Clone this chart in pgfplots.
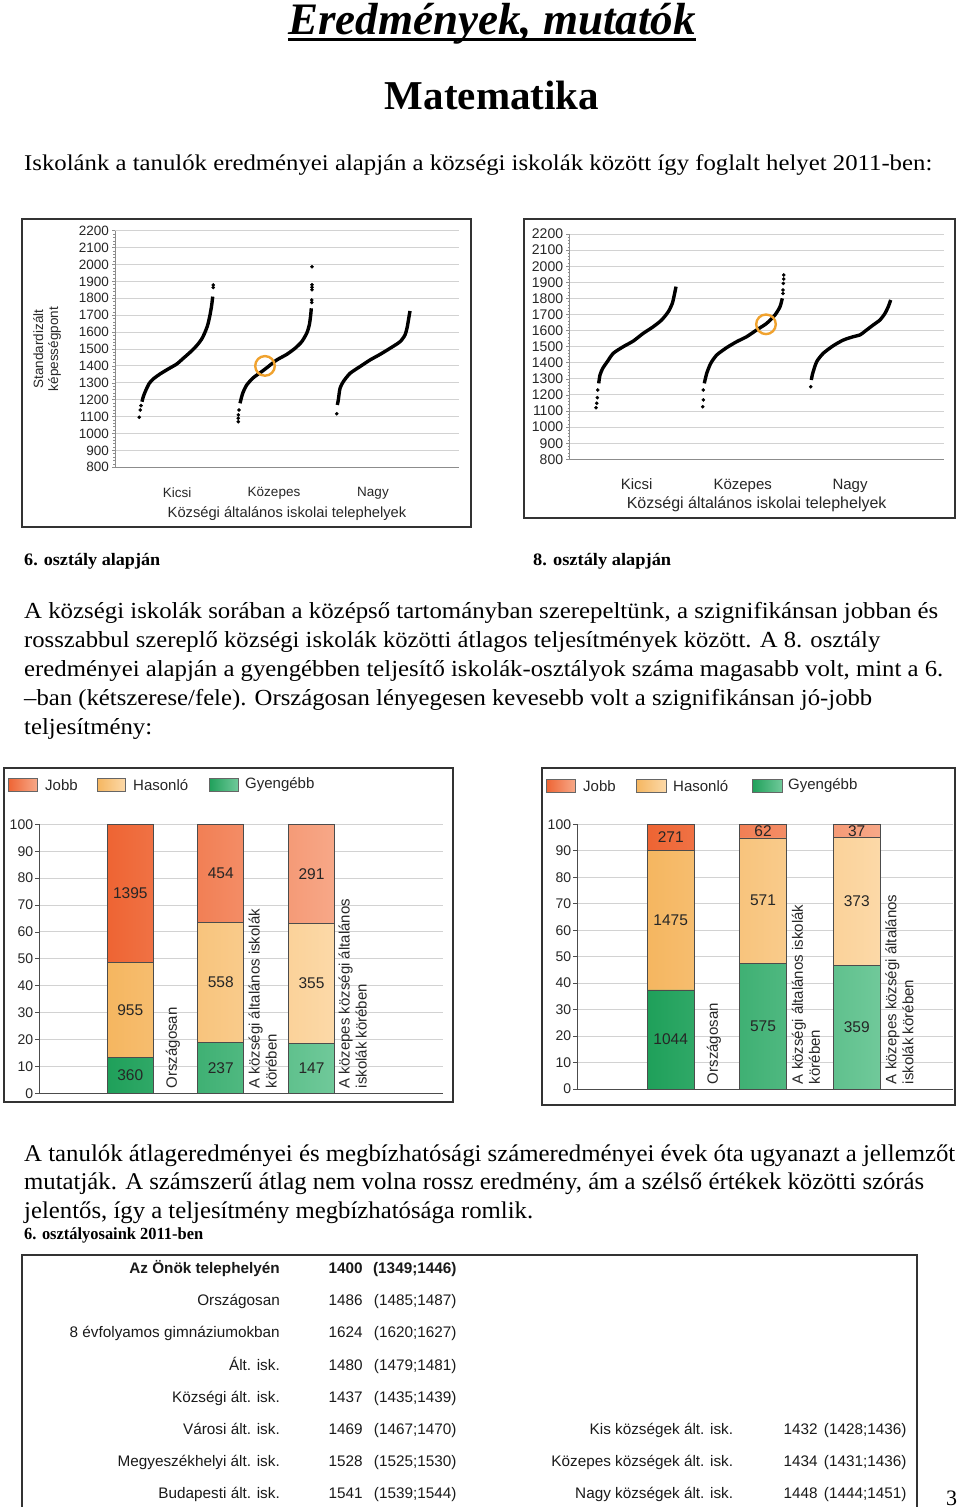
\documentclass[border=0pt]{standalone}
\usepackage{fontspec}
\setmainfont{Liberation Serif}
\newfontfamily\sans{Liberation Sans}
\newfontfamily\cserif[FakeStretch=0.88]{Liberation Serif}
\usepackage{graphicx}
\usepackage{pgfplots}
\usepackage{pgfplotstable}
\pgfplotsset{compat=1.18}

\definecolor{jobbL}{HTML}{EE6433}
\definecolor{jobbR}{HTML}{F7A888}
\definecolor{hasL}{HTML}{F5B660}
\definecolor{hasR}{HTML}{FCD9A8}
\definecolor{gyL}{HTML}{1FA05A}
\definecolor{gyR}{HTML}{70C99A}
\definecolor{ring}{HTML}{F0A22E}
\definecolor{gridc}{HTML}{D2D2D2}
\definecolor{framec}{HTML}{333333}

\newcommand{\fs}[1]{\fontsize{#1}{#1}\selectfont}

% bar chart data: x position, cumulative tops (percent), counts, label mid-heights
\pgfplotstableread{
x     gy     has    jo   cgy   cha   cjo   mgy   mha   mjo
91.0  13.28  48.52  100  360   955   1395  6.64  30.90 74.26
181.4 18.98  63.65  100  237   558   454   9.49  41.32 81.83
272.2 18.54  63.30  100  147   355   291   9.27  40.92 81.65
}\barsA
\pgfplotstableread{
x     gy     has    jo   cgy   cha   cjo   mgy   mha   mjo
93.4  37.42  90.29  100  1044  1475  271   18.71 63.85 95.14
185.7 47.60  94.87  100  575   571   62    23.80 71.23 97.43
279.4 46.68  95.19  100  359   373   37    23.34 70.94 97.59
}\barsB

\pgfplotsset{
  scurve/.style={
    scale only axis, anchor=south west,
    xmin=0, ymin=800, ymax=2200,
    axis x line*=bottom, axis y line*=left,
    axis line style={draw=black!45, line width=0.8pt},
    ytick={800,900,...,2200},
    minor y tick num=4,
    ymajorgrids, grid style={draw=gridc, line width=0.9pt},
    tick align=outside, major tick length=3pt, minor tick length=1.8pt,
    ytick style={draw=black!45, line width=0.6pt},
    xtick style={draw=none},
    /pgf/number format/assume math mode=true,
    /pgf/number format/1000 sep={},
    xticklabel style={text=black!85},
    clip=false,
  },
  barax/.style={
    scale only axis, anchor=south west,
    xmin=0, ymin=0, ymax=100,
    axis x line*=bottom, axis y line*=left,
    axis line style={draw=black!70, line width=1pt},
    ytick={0,10,...,100},
    ymajorgrids, grid style={draw=gridc, line width=0.9pt},
    xtick=\empty,
    tick align=outside, major tick length=4pt,
    ytick style={draw=black!70, line width=0.8pt},
    /pgf/number format/assume math mode=true,
    yticklabel style={font=\sans\fs{14}, inner sep=0pt, text=black!85},
    clip=false,
  },
  sbar/.style={ybar, bar width=46pt, bar shift=0pt, draw=black!70, line width=0.6pt},
  cnt/.style={only marks, mark=*, mark size=0pt, mark options={draw=none,fill=none},
    nodes near coords, point meta=explicit symbolic,
    nodes near coords style={anchor=center, font=\sans\fs{15.5}, text=black!85}},
  scl/.style={black, line width=3.4pt, line join=round, smooth, tension=0.4},
  sdot/.style={only marks, mark=*, mark size=1.6pt, black},
}

\begin{document}
\begin{tikzpicture}[x=1pt,y=1pt]
\useasboundingbox (0,0) rectangle (960,-1507);

% ---------- headings ----------
\node[anchor=base, inner sep=0] (ttl) at (492,-34) {\fs{45}\bfseries\itshape Eredmények, mutatók};
\draw[line width=3pt] ([yshift=-5pt]ttl.base west) -- ([yshift=-5pt]ttl.base east);
\node[anchor=base, inner sep=0] at (492,-109) {\fs{41}\bfseries Matematika};
\node[anchor=base west, inner sep=0] at (24,-170) {\fs{22.5}\resizebox{908pt}{\height}{Iskolánk a tanulók eredményei alapján a községi iskolák között így foglalt helyet 2011-ben:}};

% ---------- chart frames ----------
\draw[framec, line width=1.6pt] (22,-219) rectangle (471,-527);
\draw[framec, line width=1.6pt] (524,-219) rectangle (955,-518);

% ---------- S-curve chart 1 (6th grade) ----------
\begin{axis}[scurve, at={(115pt,-467.3pt)}, width=344pt, height=236.6pt, xmax=344,
  yticklabel style={font=\sans\fs{13.5}, inner sep=0pt, xshift=-3pt, text=black!85},
  xtick={62,159,258}, xticklabels={Kicsi,Közepes,Nagy},
  xticklabel style={font=\sans\fs{13.5}, yshift=-13.5pt}]
\addplot[scl] table {
x y
27 1188
28.3 1218
31 1258
34.3 1297
38.3 1323
45 1352
53.3 1382
61.7 1411
68.3 1445
75 1480
81.7 1520
86.7 1559
90 1599
92.7 1642
95 1701
96.7 1760
97.7 1810
};
\addplot[sdot] table {
x y
24.3 1096
25.3 1139
26 1165
98.3 1879
98.3 1864
};
\addplot[scl] table {
x y
125 1179
127.7 1238
131.7 1287
138.3 1330
146.7 1366
153.3 1396
161.7 1435
171.7 1468
180 1504
186.7 1543
191.7 1593
194.3 1642
195.7 1701
196.3 1741
};
\addplot[sdot] table {
x y
123.3 1070
123.3 1090
123.3 1110
124 1139
196.7 1775
196.7 1790
197 1850
197 1865
197 1880
197 1987
};
\addplot[scl] table {
x y
222.3 1169
223.3 1198
225 1267
228.3 1307
235 1356
245 1396
255 1435
265 1468
275 1504
285 1543
290 1583
292.3 1632
293.7 1681
295 1725
};
\addplot[sdot] table {
x y
221.7 1117
};
\addplot[only marks, mark=o, mark size=9.8pt, draw=ring, line width=2.4pt] coordinates {(150,1400)};
\node[rotate=90, align=center, font=\sans\fontsize{13.5}{15}\selectfont, text=black!85] at (rel axis cs:0,0.5) [yshift=68pt] {Standardizált\\képességpont};
\node[font=\sans\fs{14.7}, text=black!85] at (rel axis cs:0.5,0) [yshift=-46pt] {Községi általános iskolai telephelyek};
\end{axis}

% ---------- S-curve chart 2 (8th grade) ----------
\begin{axis}[scurve, at={(569.3pt,-459.3pt)}, width=374.7pt, height=225.3pt, xmax=374.7,
  yticklabel style={font=\sans\fs{14}, inner sep=0pt, xshift=-3pt, text=black!85},
  xtick={67.4,173.4,280.7}, xticklabels={Kicsi,Közepes,Nagy},
  xticklabel style={font=\sans\fs{15}, yshift=-13pt}]
\addplot[scl] table {
x y
29.4 1272
30.7 1324
33.4 1365
38 1407
44 1459
54 1500
64 1535
74 1583
84 1624
92.4 1666
99 1717
103 1769
105 1821
106.7 1873
};
\addplot[sdot] table {
x y
26.7 1121
27.4 1148
28 1183
28.4 1231
};
\addplot[scl] table {
x y
135 1272
137.4 1334
141.4 1396
147.4 1448
157.4 1494
167.4 1531
177.4 1562
187.4 1604
197.4 1645
205.7 1697
210.7 1748
213 1800
};
\addplot[sdot] table {
x y
133.4 1127
134 1169
134 1231
213.7 1830
213.7 1852
214 1893
214.4 1920
214.4 1945
};
\addplot[scl] table {
x y
242 1293
243.4 1334
247.4 1407
254 1459
264 1506
274 1541
284 1562
290.7 1573
297.4 1604
304 1635
310.7 1666
315.7 1707
319 1749
321.4 1790
};
\addplot[sdot] table {
x y
241.4 1251
};
\addplot[only marks, mark=o, mark size=9.8pt, draw=ring, line width=2.4pt] coordinates {(196.7,1639)};
\node[font=\sans\fs{16}, text=black!85] at (rel axis cs:0.5,0) [yshift=-45pt] {Községi általános iskolai telephelyek};
\end{axis}

% ---------- captions ----------
\node[anchor=base west, inner sep=0] at (24,-565) {\fs{17.5}\cserif\bfseries\resizebox{136pt}{\height}{6. osztály alapján}};
\node[anchor=base west, inner sep=0] at (533,-565) {\fs{17.5}\cserif\bfseries\resizebox{138pt}{\height}{8. osztály alapján}};

\node[anchor=base west, inner sep=0] at (24,-618) {\fs{23}\resizebox{914pt}{\height}{A községi iskolák sorában a középső tartományban szerepeltünk, a szignifikánsan jobban és}};
\node[anchor=base west, inner sep=0] at (24,-647) {\fs{23}\resizebox{856pt}{\height}{rosszabbul szereplő községi iskolák közötti átlagos teljesítmények között. A 8. osztály}};
\node[anchor=base west, inner sep=0] at (24,-676) {\fs{23}\resizebox{919pt}{\height}{eredményei alapján a gyengébben teljesítő iskolák-osztályok száma magasabb volt, mint a 6.}};
\node[anchor=base west, inner sep=0] at (24,-705) {\fs{23}\resizebox{848pt}{\height}{–ban (kétszerese/fele). Országosan lényegesen kevesebb volt a szignifikánsan jó-jobb}};
\node[anchor=base west, inner sep=0] at (24,-734) {\fs{23}\resizebox{128pt}{\height}{teljesítmény:}};

% ---------- bar chart frames & legends ----------
\draw[framec, line width=1.6pt] (4,-768) rectangle (453,-1102);
\draw[framec, line width=1.6pt] (542,-768) rectangle (955,-1105);

\draw[draw=black!60, left color=jobbL, right color=jobbR] (8,-778.5) rectangle (37,-791.5);
\node[anchor=west, inner sep=0, font=\sans\fs{15}, text=black!85] at (45,-785) {Jobb};
\draw[draw=black!60, left color=hasL, right color=hasR] (97,-778.5) rectangle (125,-791.5);
\node[anchor=west, inner sep=0, font=\sans\fs{15}, text=black!85] at (133,-785) {Hasonló};
\draw[draw=black!60, left color=gyL, right color=gyR] (209,-778.5) rectangle (238,-791.5);
\node[anchor=west, inner sep=0, font=\sans\fs{15}, text=black!85] at (245,-785) {Gyengébb};

\draw[draw=black!60, left color=jobbL, right color=jobbR] (546,-779) rectangle (575,-792);
\node[anchor=west, inner sep=0, font=\sans\fs{15}, text=black!85] at (583,-785.7) {Jobb};
\draw[draw=black!60, left color=hasL, right color=hasR] (636,-779) rectangle (666,-792);
\node[anchor=west, inner sep=0, font=\sans\fs{15}, text=black!85] at (673,-785.7) {Hasonló};
\draw[draw=black!60, left color=gyL, right color=gyR] (752,-779) rectangle (782,-792);
\node[anchor=west, inner sep=0, font=\sans\fs{15}, text=black!85] at (788,-785.7) {Gyengébb};

% ---------- bar chart 1 ----------
\begin{axis}[barax, at={(39.3pt,-1093.3pt)}, width=403.7pt, height=269pt, xmax=403.7,
  yticklabel style={xshift=-2pt}]
\addplot[sbar, left color=jobbL, right color=jobbR] table[x=x,y=jo]{\barsA};
\addplot[sbar, left color=hasL, right color=hasR] table[x=x,y=has]{\barsA};
\addplot[sbar, left color=gyL, right color=gyR] table[x=x,y=gy]{\barsA};
\addplot[cnt] table[x=x,y=mjo,meta=cjo]{\barsA};
\addplot[cnt] table[x=x,y=mha,meta=cha]{\barsA};
\addplot[cnt] table[x=x,y=mgy,meta=cgy]{\barsA};
\node[rotate=90, anchor=north west, inner sep=0, font=\sans\fs{15}, text=black!85] at (axis cs:126.4,1.8) {Országosan};
\node[rotate=90, anchor=north west, inner sep=0, align=left, font=\sans\fontsize{15}{17}\selectfont, text=black!85] at (axis cs:209,1.8) {A községi általános iskolák\\körében};
\node[rotate=90, anchor=north west, inner sep=0, align=left, font=\sans\fontsize{15}{17}\selectfont, text=black!85] at (axis cs:299,1.8) {A közepes községi általános\\iskolák körében};
\end{axis}

% ---------- bar chart 2 ----------
\begin{axis}[barax, at={(577.3pt,-1089pt)}, width=376pt, height=264.7pt, xmax=376,
  yticklabel style={xshift=-2pt}]
\addplot[sbar, bar width=46.7pt, left color=jobbL, right color=jobbR] table[x=x,y=jo]{\barsB};
\addplot[sbar, bar width=46.7pt, left color=hasL, right color=hasR] table[x=x,y=has]{\barsB};
\addplot[sbar, bar width=46.7pt, left color=gyL, right color=gyR] table[x=x,y=gy]{\barsB};
\addplot[cnt] table[x=x,y=mjo,meta=cjo]{\barsB};
\addplot[cnt] table[x=x,y=mha,meta=cha]{\barsB};
\addplot[cnt] table[x=x,y=mgy,meta=cgy]{\barsB};
\node[rotate=90, anchor=north west, inner sep=0, font=\sans\fs{15}, text=black!85] at (axis cs:129.4,1.8) {Országosan};
\node[rotate=90, anchor=north west, inner sep=0, align=left, font=\sans\fontsize{15}{17}\selectfont, text=black!85] at (axis cs:214.4,1.8) {A községi általános iskolák\\körében};
\node[rotate=90, anchor=north west, inner sep=0, align=left, font=\sans\fontsize{15}{17}\selectfont, text=black!85] at (axis cs:307.7,1.8) {A közepes községi általános\\iskolák körében};
\end{axis}

% ---------- second paragraph ----------
\node[anchor=base west, inner sep=0] at (24,-1161) {\fs{24}\resizebox{931pt}{\height}{A tanulók átlageredményei és megbízhatósági számeredményei évek óta ugyanazt a jellemzőt}};
\node[anchor=base west, inner sep=0] at (24,-1189.5) {\fs{24}\resizebox{900pt}{\height}{mutatják. A számszerű átlag nem volna rossz eredmény, ám a szélső értékek közötti szórás}};
\node[anchor=base west, inner sep=0] at (24,-1218) {\fs{24}\resizebox{509pt}{\height}{jelentős, így a teljesítmény megbízhatósága romlik.}};
\node[anchor=base west, inner sep=0] at (24,-1239.5) {\fs{17}\cserif\bfseries\resizebox{179pt}{\height}{6. osztályosaink 2011-ben}};

% ---------- results table ----------
\draw[framec, line width=1.6pt] (22,-1512) -- (22,-1255) -- (917,-1255) -- (917,-1512);
\begin{scope}[every node/.style={inner sep=0, font=\sans\fs{15.3}, text=black!90}]
\node[anchor=base east] at (280,-1273.5) {\bfseries Az Önök telephelyén};
\node[anchor=base west] at (328.3,-1273.5) {\bfseries 1400};
\node[anchor=base east] at (456.7,-1273.5) {\bfseries (1349;1446)};
\node[anchor=base east] at (280,-1305.5) {Országosan};
\node[anchor=base west] at (328.3,-1305.5) {1486};
\node[anchor=base east] at (456.7,-1305.5) {(1485;1487)};
\node[anchor=base east] at (280,-1337.5) {8 évfolyamos gimnáziumokban};
\node[anchor=base west] at (328.3,-1337.5) {1624};
\node[anchor=base east] at (456.7,-1337.5) {(1620;1627)};
\node[anchor=base east] at (280,-1370) {Ált. isk.};
\node[anchor=base west] at (328.3,-1370) {1480};
\node[anchor=base east] at (456.7,-1370) {(1479;1481)};
\node[anchor=base east] at (280,-1402.5) {Községi ált. isk.};
\node[anchor=base west] at (328.3,-1402.5) {1437};
\node[anchor=base east] at (456.7,-1402.5) {(1435;1439)};
\node[anchor=base east] at (280,-1434.5) {Városi ált. isk.};
\node[anchor=base west] at (328.3,-1434.5) {1469};
\node[anchor=base east] at (456.7,-1434.5) {(1467;1470)};
\node[anchor=base east] at (280,-1466.5) {Megyeszékhelyi ált. isk.};
\node[anchor=base west] at (328.3,-1466.5) {1528};
\node[anchor=base east] at (456.7,-1466.5) {(1525;1530)};
\node[anchor=base east] at (280,-1498.5) {Budapesti ált. isk.};
\node[anchor=base west] at (328.3,-1498.5) {1541};
\node[anchor=base east] at (456.7,-1498.5) {(1539;1544)};
\node[anchor=base east] at (733.3,-1434.5) {Kis községek ált. isk.};
\node[anchor=base west] at (783.3,-1434.5) {1432};
\node[anchor=base east] at (906.7,-1434.5) {(1428;1436)};
\node[anchor=base east] at (733.3,-1466.5) {Közepes községek ált. isk.};
\node[anchor=base west] at (783.3,-1466.5) {1434};
\node[anchor=base east] at (906.7,-1466.5) {(1431;1436)};
\node[anchor=base east] at (733.3,-1498.5) {Nagy községek ált. isk.};
\node[anchor=base west] at (783.3,-1498.5) {1448};
\node[anchor=base east] at (906.7,-1498.5) {(1444;1451)};
\end{scope}
\node[anchor=base west, inner sep=0] at (946,-1505) {\fs{22}3};
\end{tikzpicture}
\end{document}
